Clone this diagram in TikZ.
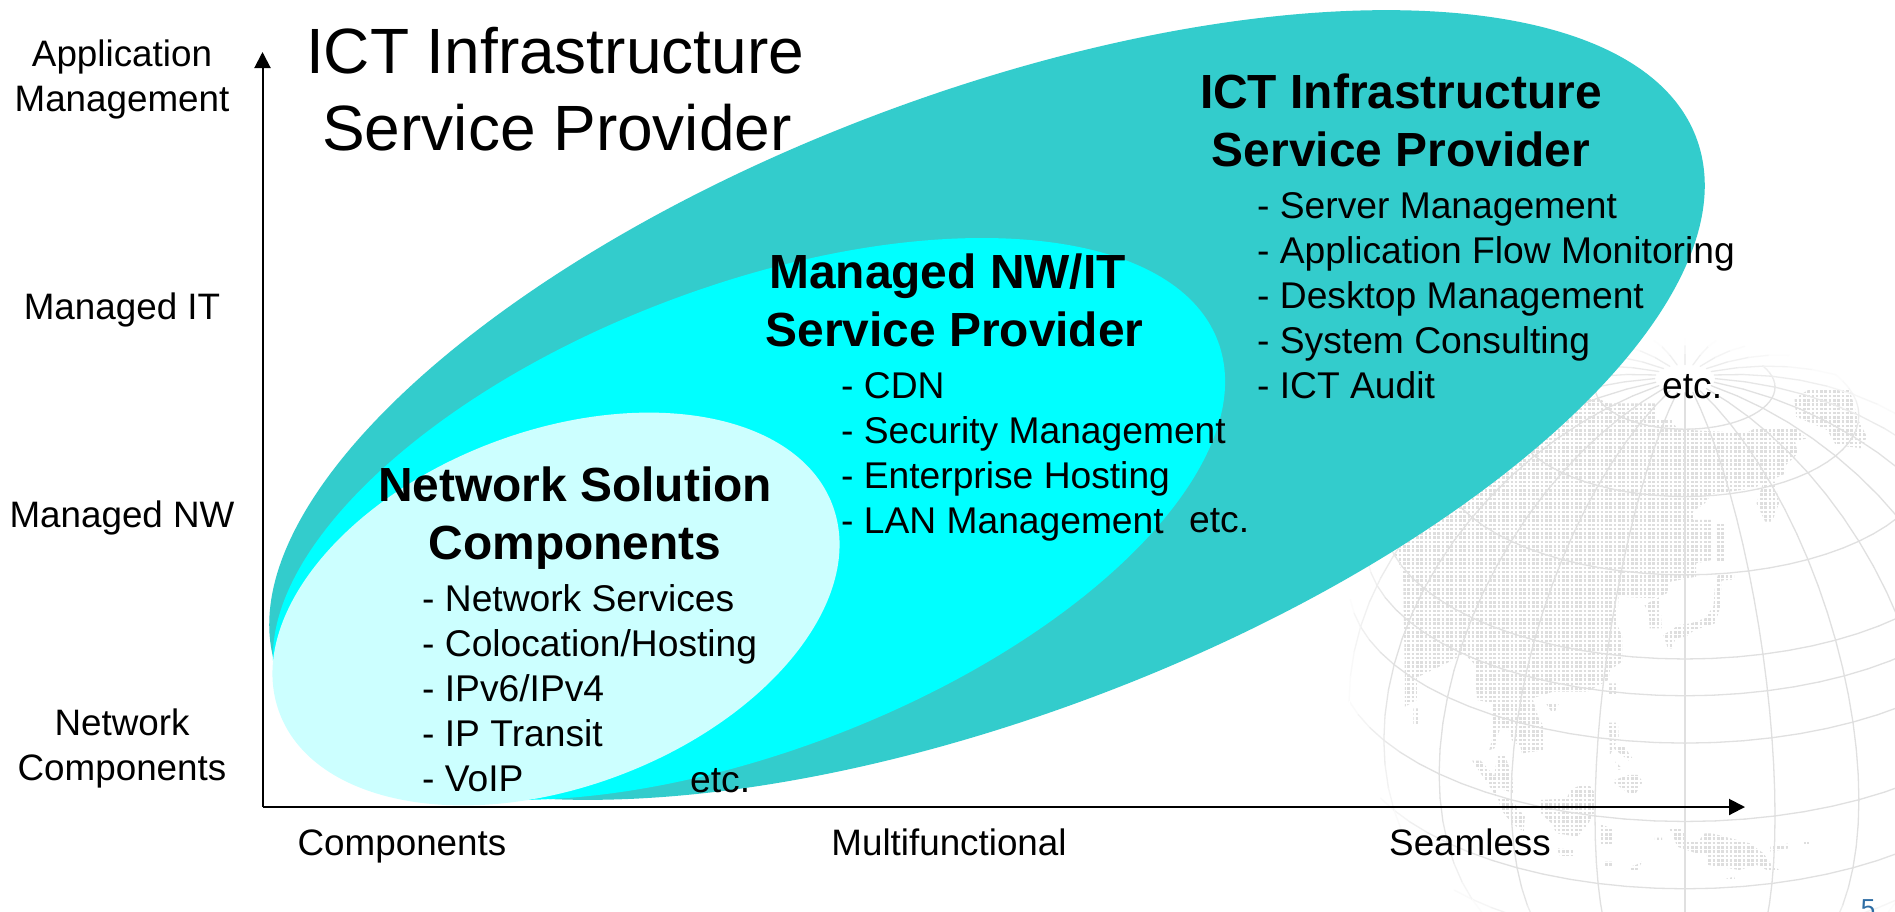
\documentclass[tikz,border=0pt]{standalone}
\usepackage{fontspec}
\setmainfont{Liberation Sans}
\usetikzlibrary{arrows.meta}
\definecolor{outerteal}{HTML}{33CCCC}
\definecolor{midcyan}{HTML}{00FFFF}
\definecolor{innercyan}{HTML}{CCFFFF}
\definecolor{gridgrey}{HTML}{E0E0E0}
\definecolor{dotgrey}{HTML}{DEDEDE}
\definecolor{pageblue}{HTML}{2E6DA4}
\newcommand{\globexy}[2]{%
  \pgfmathsetmacro{\gx}{1685+1.07*325*cos(#1)*sin(#2)}%
  \pgfmathsetmacro{\gy}{659-325*(sin(#1)*cos(30)-cos(#1)*sin(30)*cos(#2))}%
  \pgfmathsetmacro{\gz}{sin(#1)*sin(30)+cos(#1)*cos(30)*cos(#2)}%
}
\newcommand{\globeseg}[4]{%
  \globexy{#1}{#2}\let\xa\gx\let\ya\gy\let\za\gz
  \globexy{#3}{#4}%
  \pgfmathsetmacro{\zm}{(\za+\gz)/2}%
  \ifdim\zm pt>0.2pt
    \pgfmathtruncatemacro{\pc}{min(100,100*(\zm-0.2)/0.35)}%
    \draw[gridline,color=gridgrey!\pc!white] (\xa,\ya) -- (\gx,\gy);
  \fi
}
\tikzset{
  gridline/.style={line width=1.3pt,line cap=round},
  axisline/.style={line width=2pt,-{Triangle[length=16pt,width=16pt]}},
  labeltext/.style={inner sep=0pt,anchor=base,align=center,font=\fontsize{36.8}{45}\selectfont},
  itemtext/.style={inner sep=0pt,anchor=base west,align=left,font=\fontsize{37.2}{45}\selectfont},
  headtext/.style={inner sep=0pt,anchor=base,align=center,font=\fontsize{47.9}{57.5}\selectfont\bfseries},
  titletext/.style={inner sep=0pt,anchor=base,align=center,font=\fontsize{64}{76.5}\selectfont},
}
\begin{document}
\begin{tikzpicture}[x=1pt,y=-1pt]
\useasboundingbox (0,0) rectangle (1895,911);
\clip (0,0) rectangle (1895,911);
\fill[white] (0,0) rectangle (1895,911);
% globe: dot map
\begin{scope}[shift={(1360pt,-340pt)},x=0.3448pt,y=-0.3333pt]
  \clip
   (650,180)--(680,170)--(720,190)--(860,190)--(860,240)--(905,240)--(920,268)--(1120,280)--(1150,262)--(1260,262)--(1295,295)--(1262,305)--(1270,340)--(1235,375)--(1235,400)--(1140,445)--(1020,462)--(1000,490)--(965,515)--(965,540)--(1020,540)--(1020,660)--(975,670)--(975,710)--(900,725)--(890,760)--(850,775)--(750,770)--(745,850)--(760,890)--(760,965)--(725,990)--(720,1020)--(660,1055)--(560,1055)--(500,1075)--(520,1140)--(535,1160)--(535,1230)--(470,1240)--(465,1220)--(440,1200)--(430,1165)--(405,1170)--(400,1185)--(390,1225)--(375,1230)--(385,1190)--(385,1090)--(340,1080)--(330,970)--(300,940)--(270,960)--(210,990)--(170,1010)--(130,1010)--(125,700)--(100,640)--(300,430)--cycle
   (130,1010)--(165,1010)--(165,1080)--(130,1100)--cycle
   (155,1105)--(168,1105)--(168,1155)--(155,1155)--cycle
   (1170,425)--(1205,425)--(1215,490)--(1195,545)--(1175,545)--(1150,490)--cycle
   (1030,550)--(1060,550)--(1060,665)--(1035,665)--cycle
   (1040,700)--(1085,700)--(1085,718)--(1048,722)--(1045,800)--(1030,850)--(970,870)--(945,890)--(915,895)--(905,925)--(893,925)--(880,885)--(925,855)--(960,850)--(1000,835)--(1025,800)--(1030,730)--cycle
   (825,795)--(870,770)--(875,865)--(840,865)--(838,820)--cycle
   (1260,175)--(1300,150)--(1420,150)--(1445,240)--(1470,290)--(1455,325)--(1380,315)--(1355,270)--(1265,230)--cycle
   (722,1030)--(748,1030)--(748,1068)--(722,1068)--cycle
   (538,1088)--(578,1088)--(565,1115)--(555,1115)--cycle
   (722,1148)--(748,1148)--(750,1190)--(725,1245)--cycle
   (740,1218)--(765,1218)--(790,1255)--(780,1262)--(735,1225)--cycle
   (740,1265)--(760,1285)--(750,1290)--cycle
   (780,1305)--(805,1305)--(820,1325)--(800,1360)--(780,1360)--(738,1330)--(738,1320)--cycle
   (325,1262)--(350,1262)--(400,1320)--(395,1370)--(370,1330)--cycle
   (398,1248)--(420,1248)--(440,1300)--(448,1360)--(385,1340)--cycle
   (640,1335)--(665,1335)--(678,1355)--(678,1420)--(660,1455)--(630,1490)--(570,1480)--(555,1450)--(525,1420)--(525,1380)--(600,1375)--(610,1350)--cycle
   (400,1375)--(435,1375)--(478,1430)--(475,1475)--(440,1450)--(410,1410)--cycle
   (695,1450)--(735,1470)--(730,1515)--(695,1515)--cycle
   (570,1525)--(620,1530)--(620,1548)--(580,1548)--cycle
   (710,1565)--(735,1565)--(735,1578)--(710,1578)--cycle
   (783,1580)--(800,1575)--(818,1565)--(805,1590)--(783,1590)--cycle
   (895,1465)--(935,1465)--(945,1500)--(980,1505)--(1000,1480)--(1020,1480)--(1075,1495)--(1130,1510)--(1170,1540)--(1190,1570)--(1215,1590)--(1180,1590)--(1150,1575)--(1100,1590)--(1010,1575)--(1005,1540)--(975,1540)--(920,1520)--(905,1480)--cycle
   (855,1493)--(876,1493)--(876,1506)--(855,1506)--cycle
   (1190,1520)--(1245,1510)--(1245,1525)--(1190,1535)--cycle
   (1288,1505)--(1302,1505)--(1302,1518)--(1288,1518)--cycle
   (895,1625)--(975,1625)--(975,1640)--(1085,1610)--(1095,1645)--(1130,1655)--(1140,1720)--(740,1720)--(745,1685)--(800,1655)--(880,1650)--cycle;
  \foreach \r in {0,1,...,125}{
    \draw[dotgrey,line width=2.6pt,dash pattern=on 2.6pt off 1.7pt]
      (0,{12.9*\r}) -- (1560,{12.9*\r});
  }
\end{scope}
% globe: parallels and meridians
\foreach \la in {75,60,45,30,23.5,15,0,-15,-30}{
  \foreach \lo in {-120,-115,...,115}{
    \pgfmathsetmacro{\lb}{\lo+5}
    \globeseg{\la}{\lo}{\la}{\lb}
  }
}
\foreach \lo in {-165,-150,...,180}{
  \foreach \la in {85,80,...,-45}{
    \pgfmathsetmacro{\lb}{\la-5}
    \globeseg{\la}{\lo}{\lb}{\lo}
  }
}
% ellipses
\fill[outerteal,shift={(987pt,-405pt)},rotate=20.65] (0,0) ellipse [x radius=758pt,y radius=310.6pt];
\fill[midcyan,shift={(749pt,-519pt)},rotate=20.8] (0,0) ellipse [x radius=501.5pt,y radius=232.5pt];
\fill[innercyan,shift={(556pt,-609pt)},rotate=20.6] (0,0) ellipse [x radius=295.4pt,y radius=178pt];
% axes
\coordinate (origin) at (262.5,807);
\coordinate (ytip) at (262.5,52);
\coordinate (xtip) at (1745,807);
\draw[axisline] (origin) -- (ytip);
\draw[axisline] (origin) -- (xtip);
% axis labels
\node[labeltext] (ylabA) at (122,111) {Application\\Management};
\node[labeltext] (ylabB) at (122,319) {Managed IT};
\node[labeltext] (ylabC) at (122,527) {Managed NW};
\node[labeltext] (ylabD) at (122,780) {Network\\Components};
\node[labeltext] (xlabA) at (402,855) {Components};
\node[labeltext] (xlabB) at (949,855) {Multifunctional};
\node[labeltext] (xlabC) at (1470,855) {Seamless};
% title
\node[titletext] (title) at (555,150) {ICT Infrastructure\\\hspace*{4pt}Service Provider};
% network solution components
\node[headtext] (nsHead) at (575,559) {Network Solution\\Components};
\node[itemtext] (nsList) at (422,791) {- Network Services\\- Colocation/Hosting\\- IPv6/IPv4\\- IP Transit\\- VoIP};
\node[itemtext] (nsEtc) at (690,792) {etc.};
% managed
\node[headtext] (mgHead) at (951,346) {\hspace*{-7pt}Managed NW/IT\\\hspace*{7pt}Service Provider};
\node[itemtext] (mgList) at (841,533) {- CDN\\- Security Management\\- Enterprise Hosting\\- LAN Management};
\node[itemtext] (mgEtc) at (1189,532) {etc.};
% ict
\node[headtext] (ictHead) at (1401,166) {ICT Infrastructure\\Service Provider};
\node[itemtext] (ictList) at (1257,398) {- Server Management\\- Application Flow Monitoring\\- Desktop Management\\- System Consulting\\- ICT Audit};
\node[itemtext] (ictEtc) at (1662,398) {etc.};
% page number
\node[inner sep=0pt,anchor=base,text=pageblue,font=\fontsize{26}{30}\selectfont] (pagenum) at (1868,917) {5};
\end{tikzpicture}
\end{document}
